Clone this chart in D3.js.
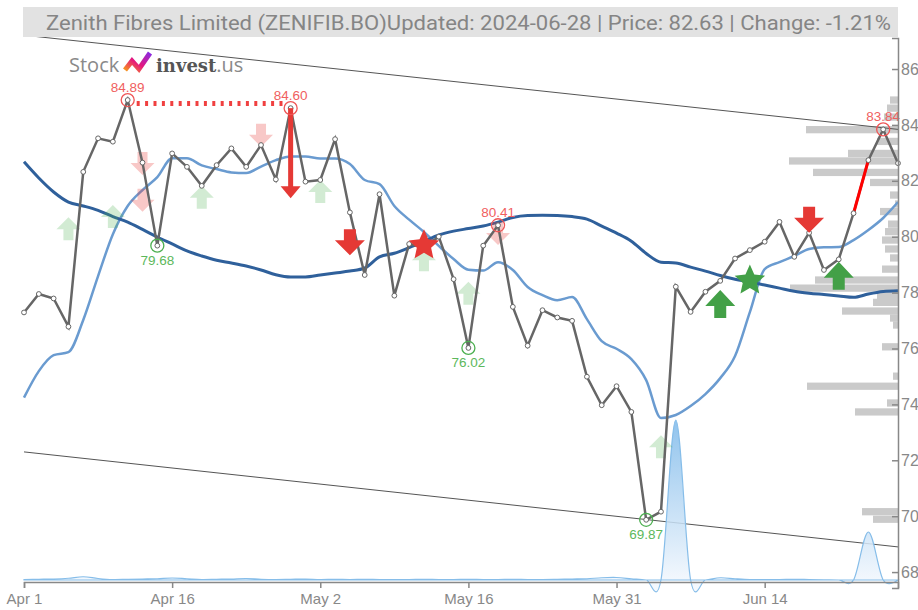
<!DOCTYPE html>
<html>
<head>
<meta charset="utf-8">
<script src="https://cdn.jsdelivr.net/npm/d3@7"></script>
<style>
  body { margin: 0; background: #fff; }
  svg { display: block; font-family: "Liberation Sans", Arial, sans-serif; }
</style>
</head>
<body>
<svg width="918" height="610"></svg>
<script>
// trading days, Apr 1 .. Jun 28 2024
const dates = ["04-01","04-02","04-03","04-04","04-05","04-08","04-09","04-10","04-12","04-15",
  "04-16","04-18","04-19","04-22","04-23","04-24","04-25","04-26","04-29","04-30",
  "05-02","05-03","05-06","05-07","05-08","05-09","05-10","05-13","05-14","05-15",
  "05-16","05-17","05-21","05-22","05-23","05-24","05-27","05-28","05-29","05-30",
  "05-31","06-03","06-04","06-05","06-06","06-07","06-10","06-11","06-12","06-13",
  "06-14","06-18","06-19","06-20","06-21","06-24","06-25","06-26","06-27","06-28"];
const tickDates = ["04-01","04-16","05-02","05-16","05-31","06-14"];
const tickLabels = ["Apr 1","Apr 16","May 2","May 16","May 31","Jun 14"];
const priceTicks = [68,70,72,74,76,78,80,82,84,86];

const close = [77.29,77.95,77.79,76.78,82.32,83.52,83.40,84.89,82.65,79.68,
  82.98,82.50,81.82,82.56,83.16,82.50,83.28,82.05,84.60,81.97,
  82.03,83.49,80.87,78.63,81.52,77.89,79.74,79.62,80.00,78.48,
  76.02,79.68,80.41,77.49,76.10,77.37,77.11,76.99,74.99,73.97,
  74.65,73.73,69.87,70.16,78.21,77.31,78.03,78.42,79.22,79.52,
  79.82,80.53,79.28,80.14,78.81,79.19,80.84,82.74,83.84,82.63];

const maShort = [74.24,75.19,75.76,75.87,77.02,78.59,80.09,81.10,81.67,82.13,
  82.81,82.81,82.55,82.42,82.30,82.28,82.51,82.74,82.87,82.87,
  82.80,82.80,82.60,82.03,81.88,81.10,80.61,80.17,79.67,79.20,
  78.82,78.79,79.09,78.81,78.20,77.91,77.73,77.84,77.05,76.26,
  75.99,75.62,74.87,73.51,73.62,73.94,74.37,74.94,75.73,77.30,
  78.84,79.09,79.31,79.56,79.62,79.63,79.88,80.24,80.67,81.24];

const maLong = [82.68,82.10,81.60,81.24,81.10,80.94,80.72,80.52,80.26,79.99,
  79.74,79.49,79.31,79.16,79.06,78.95,78.81,78.64,78.56,78.56,
  78.63,78.70,78.77,78.88,79.28,79.41,79.61,79.83,80.06,80.20,
  80.29,80.38,80.52,80.69,80.76,80.77,80.76,80.72,80.63,80.38,
  80.13,79.84,79.40,79.09,79.06,78.91,78.77,78.61,78.48,78.38,
  78.27,78.16,78.05,77.98,77.93,77.88,77.83,77.95,78.04,78.07];

const volume = [100,150,200,350,650,300,100,150,200,250,
  400,250,100,150,200,300,150,100,150,200,
  100,150,100,150,100,100,100,150,100,100,
  150,100,100,150,100,100,150,200,250,450,
  500,250,0,0,32000,0,0,450,250,100,
  100,100,150,100,50,0,0,9600,0,0];

// volume profile by price level
const profPrice = [84.89,84.60,84.28,83.83,83.41,82.98,82.71,82.30,81.94,81.49,
  81.17,80.90,80.45,80.18,79.88,79.56,79.24,78.84,78.45,78.16,
  77.89,77.65,77.34,77.09,76.84,76.06,75.01,74.65,74.05,73.73,70.16,69.89];
const profVol = [8,11,14,92,21,50,109,85,28,8,
  3,18,10,13,16,13,8,16,83,108,
  21,25,56,8,5,16,5,91,11,43,36,25];

// trend channel (start, end)
const channelUpper = [87.21, 83.84];
const channelLower = [72.30, 68.90];

const highs = [{d:"04-10",v:84.89},{d:"04-29",v:84.60},{d:"05-21",v:80.41},{d:"06-27",v:83.84}];
const lows = [{d:"04-15",v:79.68},{d:"05-16",v:76.02},{d:"06-04",v:69.87}];

const fadedUp = [{d:"04-04",v:80.70},{d:"04-09",v:81.13},{d:"04-19",v:81.82},{d:"05-02",v:82.03},
  {d:"05-13",v:79.59},{d:"05-16",v:78.39},{d:"06-05",v:72.90}];
const fadedDown = [{d:"04-12",v:82.21},{d:"04-12",v:80.89},{d:"04-25",v:83.22},{d:"05-21",v:79.70}];
const sellArrows = [{d:"05-06",v:79.34},{d:"06-20",v:80.14}];
const buyArrows = [{d:"06-11",v:78.09},{d:"06-24",v:79.10}];
const redStar = {d:"05-13",v:79.69};
const greenStar = {d:"06-13",v:78.43};
const bigSell = {d:"04-29",from:84.60,to:81.38};
const resistance = {from:"04-10",to:"04-29",v:84.77};
const redSegment = ["06-25","06-26"];

const title = "Zenith Fibres Limited (ZENIFIB.BO)Updated: 2024-06-28 | Price: 82.63 | Change: -1.21%";

const svg = d3.select("svg");
const idx = d => dates.indexOf(d);

const x = d3.scaleLinear().domain([0, dates.length - 1]).range([24, 898]);
const y = d3.scaleLinear().domain([67.43, 87.11]).range([588, 38]);
const yVol = d3.scaleLinear().domain([0, d3.max(volume)]).range([580, 420]);
const wProf = d3.scaleLinear().domain([0, d3.max(profVol)]).range([0, 109]);

const defs = svg.append("defs");
const gradVol = defs.append("linearGradient").attr("id", "gVol")
  .attr("gradientUnits", "userSpaceOnUse").attr("x1", 0).attr("x2", 0).attr("y1", 420).attr("y2", 582);
gradVol.append("stop").attr("offset", 0).attr("stop-color", "#7db9ea");
gradVol.append("stop").attr("offset", 1).attr("stop-color", "#f2f7fd");
const gradLogo = defs.append("linearGradient").attr("id", "gLogo")
  .attr("x1", 0).attr("x2", 1).attr("y1", 1).attr("y2", 0);
gradLogo.append("stop").attr("offset", 0).attr("stop-color", "#f7941d");
gradLogo.append("stop").attr("offset", 0.45).attr("stop-color", "#e5177e");
gradLogo.append("stop").attr("offset", 1).attr("stop-color", "#8a2be2");

// volume profile
svg.append("g").selectAll("rect").data(profPrice).enter().append("rect")
  .attr("x", (d, i) => 898 - wProf(profVol[i]))
  .attr("y", d => y(d + 0.13))
  .attr("width", (d, i) => wProf(profVol[i]))
  .attr("height", d => y(d - 0.13) - y(d + 0.13))
  .attr("fill", "#cacaca");

// trend channel
[channelUpper, channelLower].forEach(c => {
  svg.append("line")
    .attr("x1", x(0)).attr("y1", y(c[0]))
    .attr("x2", x(dates.length - 1)).attr("y2", y(c[1]))
    .attr("stroke", "#555").attr("stroke-width", 1);
});

// volume area
const volArea = d3.area().x((d, i) => x(i)).y0(yVol(0)).y1(d => yVol(d)).curve(d3.curveCardinal);
svg.append("path").datum(volume).attr("d", volArea)
  .attr("fill", "url(#gVol)").attr("fill-opacity", 0.85)
  .attr("stroke", "#86bde9").attr("stroke-width", 1.2);

// moving averages
const maLine = d3.line().x((d, i) => x(i)).y(d => y(d)).curve(d3.curveMonotoneX);
svg.append("path").datum(maShort).attr("d", maLine)
  .attr("fill", "none").attr("stroke", "#6a9bd0").attr("stroke-width", 2.5);
svg.append("path").datum(maLong).attr("d", maLine)
  .attr("fill", "none").attr("stroke", "#2f609b").attr("stroke-width", 3);

function arrowPath(w, hh, sw, sh, dir) {
  const s = dir;  // 1 = up (tip at top), -1 = down
  return `M0,0 L${w / 2},${s * hh} L${sw / 2},${s * hh} L${sw / 2},${s * (hh + sh)} ` +
    `L${-sw / 2},${s * (hh + sh)} L${-sw / 2},${s * hh} L${-w / 2},${s * hh} Z`;
}

function starPath(ro, ri) {
  const pts = [];
  for (let k = 0; k < 10; k++) {
    const r = k % 2 ? ri : ro;
    const a = -Math.PI / 2 + k * Math.PI / 5;
    pts.push([r * Math.cos(a), r * Math.sin(a)]);
  }
  return "M" + pts.map(p => p.join(",")).join("L") + "Z";
}

// faded signals (behind price)
const gFaded = svg.append("g");
gFaded.selectAll(".fu").data(fadedUp).enter().append("path")
  .attr("d", arrowPath(24, 12, 10, 11, 1))
  .attr("transform", d => `translate(${x(idx(d.d))},${y(d.v)})`)
  .attr("fill", "#4caf50").attr("fill-opacity", 0.25);
gFaded.selectAll(".fd").data(fadedDown).enter().append("path")
  .attr("d", arrowPath(24, 12, 10, 11, -1))
  .attr("transform", d => `translate(${x(idx(d.d))},${y(d.v)})`)
  .attr("fill", "#e53935").attr("fill-opacity", 0.28);

// price line
svg.append("path").datum(close)
  .attr("d", d3.line().x((d, i) => x(i)).y(d => y(d)))
  .attr("fill", "none").attr("stroke", "#666").attr("stroke-width", 2.5);
svg.append("line")
  .attr("x1", x(idx(redSegment[0]))).attr("y1", y(close[idx(redSegment[0])]))
  .attr("x2", x(idx(redSegment[1]))).attr("y2", y(close[idx(redSegment[1])]))
  .attr("stroke", "#f00").attr("stroke-width", 3);
svg.append("g").selectAll("circle").data(close).enter().append("circle")
  .attr("cx", (d, i) => x(i)).attr("cy", d => y(d)).attr("r", 2.4)
  .attr("fill", "#fff").attr("stroke", "#666").attr("stroke-width", 1);

// solid signals
svg.selectAll(".sell").data(sellArrows).enter().append("path")
  .attr("d", arrowPath(30, 15, 12, 11, -1))
  .attr("transform", d => `translate(${x(idx(d.d))},${y(d.v)})`)
  .attr("fill", "#e53935");
svg.selectAll(".buy").data(buyArrows).enter().append("path")
  .attr("d", arrowPath(30, 16, 12, 12, 1))
  .attr("transform", d => `translate(${x(idx(d.d))},${y(d.v)})`)
  .attr("fill", "#43a047");
const star = starPath(16, 7.5);
svg.append("path").attr("d", star)
  .attr("transform", `translate(${x(idx(redStar.d))},${y(redStar.v)})`).attr("fill", "#e53935");
svg.append("path").attr("d", star)
  .attr("transform", `translate(${x(idx(greenStar.d))},${y(greenStar.v)})`).attr("fill", "#43a047");

// resistance dotted line
svg.append("line")
  .attr("x1", x(idx(resistance.from)) + 9).attr("x2", x(idx(resistance.to)) - 6)
  .attr("y1", y(resistance.v)).attr("y2", y(resistance.v))
  .attr("stroke", "#f04040").attr("stroke-width", 5).attr("stroke-dasharray", "3,5.4");

// big sell arrow
const bx = x(idx(bigSell.d));
svg.append("line").attr("x1", bx).attr("x2", bx)
  .attr("y1", y(bigSell.from)).attr("y2", y(bigSell.to) - 10)
  .attr("stroke", "#e53935").attr("stroke-width", 5);
svg.append("path").attr("d", arrowPath(20, 12, 0, 0, 1))
  .attr("transform", `translate(${bx},${y(bigSell.to)}) rotate(180)`)
  .attr("fill", "#e53935");

// high / low markers
const gHL = svg.append("g").attr("font-size", 13.5).attr("text-anchor", "middle");
highs.forEach(h => {
  const cx = x(idx(h.d)), cy = y(h.v);
  gHL.append("circle").attr("cx", cx).attr("cy", cy).attr("r", 6.5)
    .attr("fill", "none").attr("stroke", "#ee5555").attr("stroke-width", 1.3);
  gHL.append("text").attr("x", cx).attr("y", cy - 8).attr("fill", "#f06060").text(h.v.toFixed(2));
});
lows.forEach(l => {
  const cx = x(idx(l.d)), cy = y(l.v);
  gHL.append("circle").attr("cx", cx).attr("cy", cy).attr("r", 6.5)
    .attr("fill", "none").attr("stroke", "#4caf50").attr("stroke-width", 1.3);
  gHL.append("text").attr("x", cx).attr("y", cy + 19).attr("fill", "#5cb85c").text(l.v.toFixed(2));
});

// axes
const axisX = d3.axisBottom(x)
  .tickValues(tickDates.map(idx))
  .tickFormat(d => tickLabels[tickDates.indexOf(dates[d])])
  .tickPadding(5);
const gx = svg.append("g").attr("transform", "translate(0,582)").call(axisX);
gx.selectAll("text").attr("font-size", 15).attr("fill", "#888").attr("font-family", "Liberation Sans, Arial");

const axisY = d3.axisRight(y).tickValues(priceTicks).tickSizeInner(-6).tickSizeOuter(-6).tickPadding(3);
const gy = svg.append("g").attr("transform", "translate(898,0)").call(axisY);
gy.selectAll("text").attr("font-size", 16).attr("fill", "#888").attr("font-family", "Liberation Sans, Arial");
[gx, gy].forEach(g => {
  g.select(".domain").attr("stroke", "#888").attr("stroke-width", 1.5);
  g.selectAll(".tick line").attr("stroke", "#888").attr("stroke-width", 1.5);
});

// title bar
svg.append("rect").attr("x", 23).attr("y", 7).attr("width", 875).attr("height", 30).attr("fill", "#e2e2e2");
svg.append("text").attr("x", 46).attr("y", 29.5)
  .attr("font-family", "Roboto, sans-serif").attr("font-size", 20).attr("fill", "#858585")
  .attr("textLength", 845).attr("lengthAdjust", "spacingAndGlyphs")
  .text(title);

// logo
const logo = svg.append("g");
logo.append("text").attr("x", 69).attr("y", 72).attr("font-family", "Open Sans, sans-serif")
  .attr("font-size", 20).attr("fill", "#8a8a8a").text("Stock");
logo.append("path").attr("d", "M125,70 L132,61 L139,69 L150,53")
  .attr("fill", "none").attr("stroke", "url(#gLogo)").attr("stroke-width", 5)
  .attr("stroke-linejoin", "miter");
const t2 = logo.append("text").attr("x", 156).attr("y", 72).attr("font-size", 20);
t2.append("tspan").attr("font-family", "DejaVu Serif, serif").attr("font-weight", "bold")
  .attr("fill", "#555").attr("font-size", 18).text("invest");
t2.append("tspan").attr("font-family", "Open Sans, sans-serif").attr("fill", "#8a8a8a").text(".us");
</script>
</body>
</html>
